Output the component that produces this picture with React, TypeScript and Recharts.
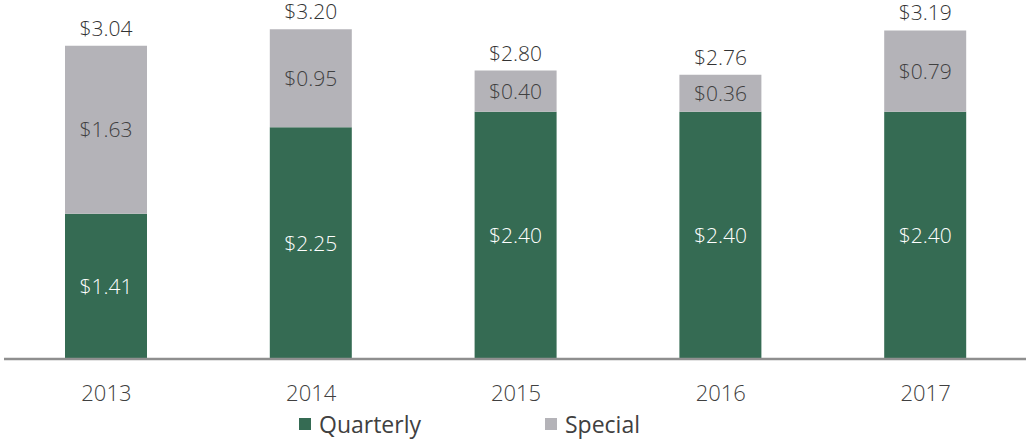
import React from 'react';
import { BarChart, Bar, XAxis, YAxis, Legend, LabelList } from 'recharts';

const years = ['2013', '2014', '2015', '2016', '2017'];
const quarterly = [1.41, 2.25, 2.4, 2.4, 2.4];
const special = [1.63, 0.95, 0.4, 0.36, 0.79];
const totals = [3.04, 3.2, 2.8, 2.76, 3.19];

const GREEN = '#356b53';
const GRAY = '#b4b3b8';
const FONT = '"Open Sans", sans-serif';

const data = years.map((year, i) => ({
  year,
  quarterly: quarterly[i],
  special: special[i],
  total: totals[i],
}));

const money = (v: number) => '$' + v.toFixed(2);

const LegendContent = () => (
  <div style={{ position: 'relative', height: 34, fontFamily: FONT, fontSize: 23, color: '#404040' }}>
    {[
      { name: 'Quarterly', color: GREEN, left: 299 },
      { name: 'Special', color: GRAY, left: 545 },
    ].map((item) => (
      <div key={item.name} style={{ position: 'absolute', left: item.left, top: 0, display: 'flex', alignItems: 'center', height: 34 }}>
        <span style={{ display: 'inline-block', width: 12, height: 12, background: item.color, marginRight: 8 }} />
        <span>{item.name}</span>
      </div>
    ))}
  </div>
);

const App: React.FC = () => {
  return (
    <div style={{ position: 'absolute', left: 0, top: 0, width: 1026, height: 441, overflow: 'hidden', background: '#fff' }}>
      <BarChart
        width={1028}
        height={441}
        data={data}
        margin={{ top: 0, right: 0, bottom: 0, left: 4 }}
        barCategoryGap={0}
      >
        <XAxis
          dataKey="year"
          height={48}
          tickLine={false}
          axisLine={{ stroke: '#8f8f8f', strokeWidth: 2.5 }}
          tickMargin={20}
          tick={{ fill: '#404040', fontSize: 22, fontFamily: FONT, fontWeight: 300 }}
        />
        <YAxis hide domain={[0, 3.485]} />
        <Legend
          verticalAlign="bottom"
          height={34}
          content={<LegendContent />}
          wrapperStyle={{ position: 'absolute', left: 0, top: 407, width: 1026 }}
        />
        <Bar dataKey="quarterly" stackId="a" fill={GREEN} barSize={82} isAnimationActive={false}>
          <LabelList
            dataKey="quarterly"
            position="center"
            formatter={(v: number) => money(v)}
            fill="#ffffff"
            style={{ fontSize: 21, fontFamily: FONT, fontWeight: 300 }}
          />
        </Bar>
        <Bar dataKey="special" stackId="a" fill={GRAY} barSize={82} isAnimationActive={false}>
          <LabelList
            dataKey="special"
            position="center"
            formatter={(v: number) => money(v)}
            fill="#404040"
            style={{ fontSize: 21, fontFamily: FONT, fontWeight: 300 }}
          />
          <LabelList
            dataKey="total"
            position="top"
            offset={10}
            formatter={(v: number) => money(v)}
            fill="#333333"
            style={{ fontSize: 21, fontFamily: FONT, fontWeight: 300 }}
          />
        </Bar>
      </BarChart>
    </div>
  );
};

export default App;
